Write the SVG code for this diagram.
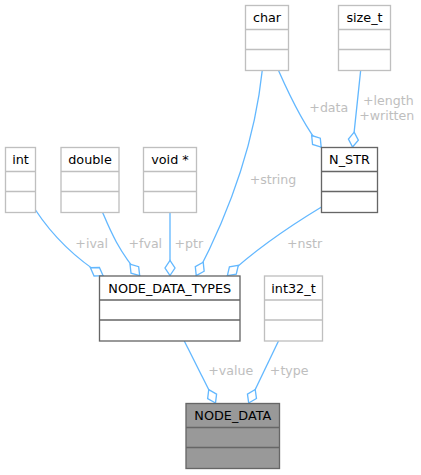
<svg xmlns="http://www.w3.org/2000/svg" width="421" height="475" viewBox="0 0 421 475">
<style>
.box{fill:#ffffff;stroke-width:1.33}
.ext{stroke:#bfbfbf}
.doc{stroke:#666666}
.root{fill:#999999;stroke:#666666}
.sep{stroke-width:1.33}
.name{font-family:"DejaVu Sans",Verdana,sans-serif;font-size:12.8px;fill:#000000;text-anchor:middle}
.edge{fill:none;stroke:#63b8ff;stroke-width:1.33;marker-end:url(#odiamond)}
.lbl{font-family:"DejaVu Sans",Verdana,sans-serif;font-size:12.6px;fill:#bebebe;text-anchor:middle}
</style>
<defs>
<marker id="odiamond" viewBox="-17 -7 19 14" markerWidth="19" markerHeight="14" refX="0" refY="0" orient="auto" markerUnits="userSpaceOnUse" overflow="visible">
<path d="M-0.5,0 L-8,-5 L-15.5,0 L-8,5 Z" fill="#ffffff" stroke="#63b8ff" stroke-width="1.33"/>
</marker>
</defs>
<rect width="421" height="475" fill="#ffffff"/>
<g id="connectors">
<path class="edge" d="M35.5,210 C52,235 75,258 103.5,276"/>
<path class="edge" d="M102.7,212.7 C110,230 118,250 140,276"/>
<path class="edge" d="M170,213 L170,276"/>
<path class="edge" d="M262.3,70 C256,130 236,200 196,276"/>
<path class="edge" d="M321.5,207 C300,220 258,247 227,276"/>
<path class="edge" d="M278.3,70 C284,83 303,125 321.5,147.5"/>
<path class="edge" d="M360.7,70 C358,95 355,125 352.5,147.5"/>
<path class="edge" d="M184.3,341 L215.7,403.5"/>
<path class="edge" d="M278.5,341 L248.5,403.5"/>
<text class="lbl" x="91.7" y="247.5">+ival</text>
<text class="lbl" x="145.3" y="247.5">+fval</text>
<text class="lbl" x="188.8" y="247.5">+ptr</text>
<text class="lbl" x="273" y="183.8">+string</text>
<text class="lbl" x="304.5" y="247.5">+nstr</text>
<text class="lbl" x="328.8" y="112">+data</text>
<text class="lbl" x="388.3" y="104.8">+length</text>
<text class="lbl" x="386.7" y="119.6">+written</text>
<text class="lbl" x="230.8" y="375">+value</text>
<text class="lbl" x="289.2" y="375">+type</text>
</g>
<g id="node-int">
<rect class="box ext" x="5.5" y="147.5" width="30" height="65"/>
<path class="sep ext" d="M5.5,171.5 H35.5 M5.5,191.5 H35.5"/>
<text class="name" x="20.5" y="164.1">int</text>
</g>
<g id="node-double">
<rect class="box ext" x="61" y="147.5" width="58" height="65"/>
<path class="sep ext" d="M61,171.5 H119 M61,191.5 H119"/>
<text class="name" x="90" y="164.1">double</text>
</g>
<g id="node-void-ptr">
<rect class="box ext" x="143.5" y="147.5" width="53" height="65"/>
<path class="sep ext" d="M143.5,171.5 H196.5 M143.5,191.5 H196.5"/>
<text class="name" x="170" y="164.1">void *</text>
</g>
<g id="node-char">
<rect class="box ext" x="245.5" y="5.5" width="43" height="65"/>
<path class="sep ext" d="M245.5,29.5 H288.5 M245.5,49.5 H288.5"/>
<text class="name" x="267" y="22.1">char</text>
</g>
<g id="node-size_t">
<rect class="box ext" x="338.5" y="5.5" width="52" height="65"/>
<path class="sep ext" d="M338.5,29.5 H390.5 M338.5,49.5 H390.5"/>
<text class="name" x="364.5" y="22.1">size_t</text>
</g>
<g id="node-N_STR">
<rect class="box doc" x="321.5" y="147.5" width="56" height="65"/>
<path class="sep doc" d="M321.5,171.5 H377.5 M321.5,191.5 H377.5"/>
<text class="name" x="349.5" y="164.1">N_STR</text>
</g>
<g id="node-NODE_DATA_TYPES">
<rect class="box doc" x="99.5" y="276" width="140.5" height="65"/>
<path class="sep doc" d="M99.5,300 H240 M99.5,320 H240"/>
<text class="name" x="169.8" y="292.6">NODE_DATA_TYPES</text>
</g>
<g id="node-int32_t">
<rect class="box ext" x="264.5" y="276" width="58" height="65"/>
<path class="sep ext" d="M264.5,300 H322.5 M264.5,320 H322.5"/>
<text class="name" x="293.5" y="292.6">int32_t</text>
</g>
<g id="node-NODE_DATA">
<rect class="box root" x="186" y="403.5" width="93.5" height="65"/>
<path class="sep root" d="M186,427.5 H279.5 M186,447.5 H279.5"/>
<text class="name" x="232.8" y="420.1">NODE_DATA</text>
</g>
</svg>
